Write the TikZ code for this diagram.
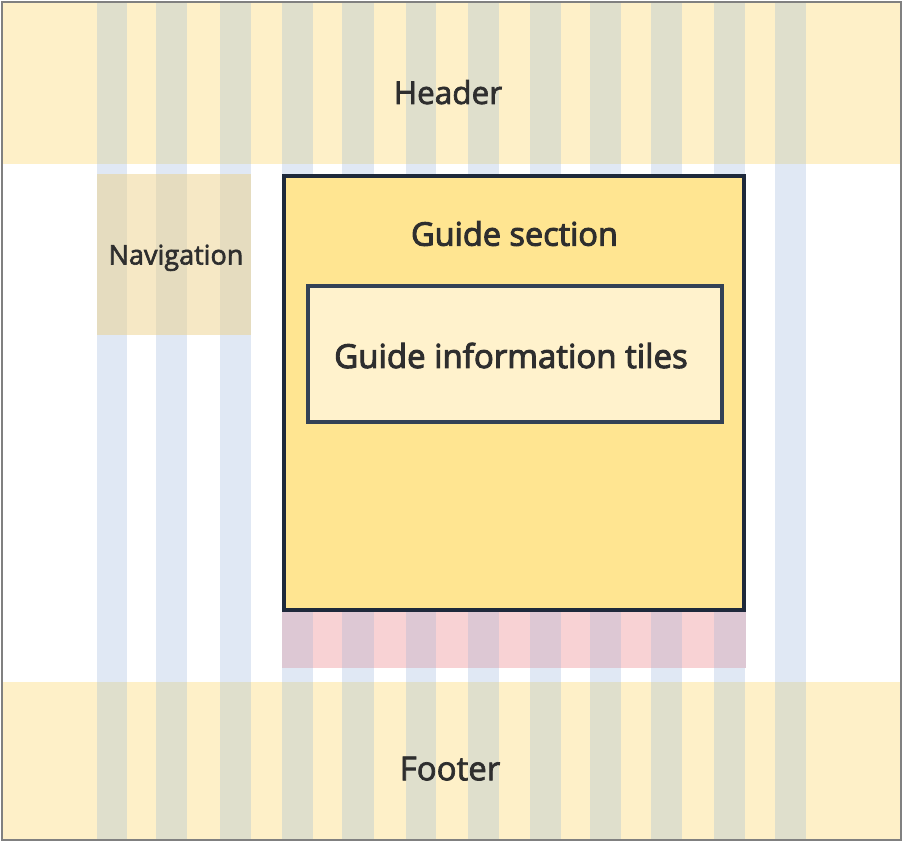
\documentclass[tikz,border=0pt]{standalone}
\usepackage{fontspec}
\setmainfont{Open Sans}
\newfontfamily\medfont[FakeBold=2.2]{Open Sans}
\newfontfamily\semifont[FakeBold=3]{Open Sans}
\definecolor{headbg}{HTML}{FEF0C8}
\definecolor{headcol}{HTML}{DFDFCC}
\definecolor{bluecol}{HTML}{E0E8F4}
\definecolor{navbg}{HTML}{F6E8C5}
\definecolor{navcol}{HTML}{E5DCBF}
\definecolor{redbg}{HTML}{F8D2D4}
\definecolor{redcol}{HTML}{DDC8D4}
\definecolor{guidefill}{HTML}{FFE591}
\definecolor{tilefill}{HTML}{FFF2CC}
\definecolor{navyline}{HTML}{1E293B}
\definecolor{slateline}{HTML}{334155}
\definecolor{frameline}{HTML}{808080}
\definecolor{txt}{HTML}{2E2E2E}
\tikzset{
  label text/.style={text=txt, inner sep=0pt, anchor=base},
  guidebox/.style={draw=navyline, line width=4pt, fill=guidefill, inner sep=0pt},
  tilebox/.style={draw=slateline, line width=4pt, fill=tilefill, inner sep=0pt},
}
\begin{document}
\begin{tikzpicture}[x=1pt,y=-1pt]
\useasboundingbox (0,0) rectangle (903,842);
\fill[white] (0,0) rectangle (903,842);
% header and footer bands
\fill[headbg] (2,2) rectangle (901,164.3);
\fill[headbg] (2,681.7) rectangle (901,840);
% columns
\foreach \cx/\cw in {96.7/30.6,156/31,220/31,282/31,342/32,406/30,468/31,530/31,590/31,651/31,714/30.5,775/31}{
  \fill[headcol] (\cx,2) rectangle ++(\cw,162.3);
  \fill[bluecol] (\cx,164.3) rectangle ++(\cw,517.4);
  \fill[headcol] (\cx,681.7) rectangle ++(\cw,158.3);
}
% navigation band
\fill[navbg] (96.7,173.7) rectangle (251,335);
\foreach \cx/\cw in {96.7/30.6,156/31,220/31}{
  \fill[navcol] (\cx,173.7) rectangle ++(\cw,161.3);
}
% red bar
\fill[redbg] (282,612) rectangle (745.7,667.7);
\foreach \cx/\cw in {282/31,342/32,406/30,468/31,530/31,590/31,651/31,714/31.7}{
  \fill[redcol] (\cx,612) rectangle ++(\cw,55.7);
}
% frame
\draw[frameline, line width=2pt] (2,2) rectangle (901,840);
% boxes
\node[guidebox, minimum width=460pt, minimum height=434pt] (guide) at (514,393) {};
\node[tilebox, minimum width=414pt, minimum height=136pt] (tiles) at (515,354) {};
% texts
\node[label text, font=\medfont\fontsize{31.5}{36}\selectfont] (header) at (448,104) {Header};
\node[label text, font=\medfont\fontsize{27}{30}\selectfont] (nav) at (176,264.5) {Navigation};
\node[label text, font=\semifont\fontsize{32.5}{36}\selectfont] (guidetxt) at (514.5,245.7) {Guide section};
\node[label text, font=\semifont\fontsize{33}{36}\selectfont] (tilestxt) at (511,368) {Guide information tiles};
\node[label text, font=\medfont\fontsize{33}{36}\selectfont] (footer) at (450,780.3) {Footer};
\end{tikzpicture}
\end{document}
